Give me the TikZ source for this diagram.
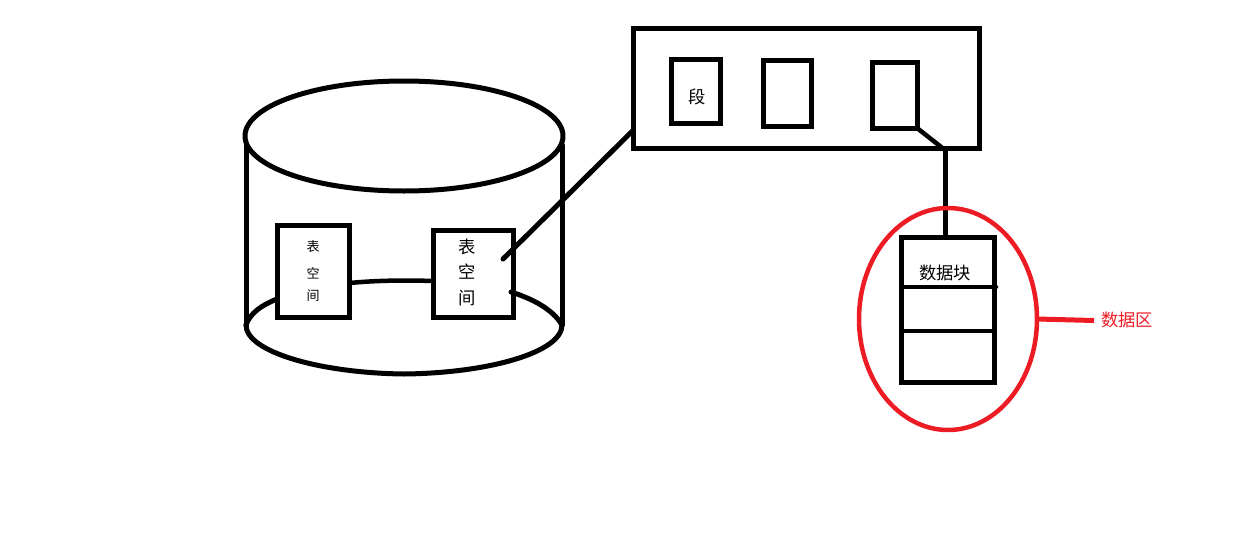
\documentclass[tikz,border=0pt]{standalone}
\usepackage{fontspec}
\usetikzlibrary{shapes.geometric}
\setmainfont{Noto Sans CJK SC}
\definecolor{pred}{HTML}{ED1C24}
\tikzset{
  boxn/.style={draw=black,line width=5pt,fill=none,inner sep=0pt,outer sep=0pt,rectangle},
  ink/.style={draw=black,line width=5pt,line cap=round,line join=round},
  thin ink/.style={ink,line width=4.5pt},
  redink/.style={draw=pred,line width=5pt},
  lbl/.style={inner sep=0pt,outer sep=0pt,font=\fontsize{17.3}{17.3}\selectfont},
  smalllbl/.style={inner sep=0pt,outer sep=0pt,font=\fontsize{13}{13}\selectfont},
}
\begin{document}
\begin{tikzpicture}[x=1pt,y=-1pt]
\useasboundingbox (0,0) rectangle (1256,549);
% cylinder
\draw[ink] (404,136) ellipse [x radius=159,y radius=55];
\coordinate (wl1) at (246,145); \coordinate (wl2) at (246,325);
\coordinate (wr1) at (562,145); \coordinate (wr2) at (562,325);
\draw[ink] (wl1) -- (wl2);
\draw[ink] (wr1) -- (wr2);
\draw[ink] (wl2) .. controls (246,352) and (320,373) .. (404,374)
  .. controls (490,373) and (562,352) .. (wr2);
\draw[ink] (wl2) .. controls (250,313) and (262,305) .. (277,299);
\draw[ink] (511,292) .. controls (530,298) and (552,308) .. (wr2);
% boxes in cylinder
\node[boxn,minimum width=72.5pt,minimum height=92pt] (ts1) at (313.5,271) {};
\node[boxn,minimum width=80pt,minimum height=87pt] (ts2) at (473,273.5) {};
\node[smalllbl] (a1) at (313,247) {表};
\node[smalllbl] (a2) at (313,273) {空};
\node[smalllbl] (a3) at (313,296) {间};
\node[lbl] (b1) at (467,247) {表};
\node[lbl] (b2) at (467,272) {空};
\node[lbl] (b3) at (467,298) {间};
\draw[thin ink] (ts1.east|-0,283) .. controls (375,280.5) and (405,280) .. (ts2.west|-0,281);
% segment container
\node[boxn,minimum width=346pt,minimum height=120pt] (seg) at (806.5,88.5) {};
\node[boxn,minimum width=49pt,minimum height=64.5pt] (s1) at (695.5,91.5) {};
\node[lbl] (s1t) at (697,97) {段};
\node[boxn,minimum width=48pt,minimum height=66pt] (s2) at (787,93) {};
\node[boxn,minimum width=45pt,minimum height=66pt] (s3) at (894.5,95) {};
\coordinate (in2) at (503,259);
\draw[ink] (in2) -- (seg.west|-0,130);
% data blocks
\node[boxn,minimum width=93pt,minimum height=145pt] (blk) at (947.5,309.5) {};
\coordinate (d1a) at (904,287); \coordinate (d1b) at (996,287);
\coordinate (d2a) at (901,331); \coordinate (d2b) at (994,331);
\draw[thin ink] (d1a) -- (d1b);
\draw[thin ink,line cap=butt] (d2a) -- (d2b);
\node[lbl] (blkt) at (945,273) {数据块};
\coordinate (elbow) at (945,150);
\draw[ink,line width=4.5pt] (s3.south east) -- (elbow);
\draw[ink,line cap=butt] (elbow) -- (blk.north-|elbow);
% red
\node[draw=pred,line width=4.5pt,ellipse,minimum width=178pt,minimum height=222pt,inner sep=0pt,outer sep=0pt] (ring) at (948,319) {};
\node[inner sep=0pt,outer sep=0pt,text=pred,font=\fontsize{17.3}{17.3}\selectfont] (rl) at (1127,320) {数据区};
\coordinate (rend) at (1094,320.5);
\draw[redink] (ring.east) -- (rend);
\end{tikzpicture}
\end{document}
